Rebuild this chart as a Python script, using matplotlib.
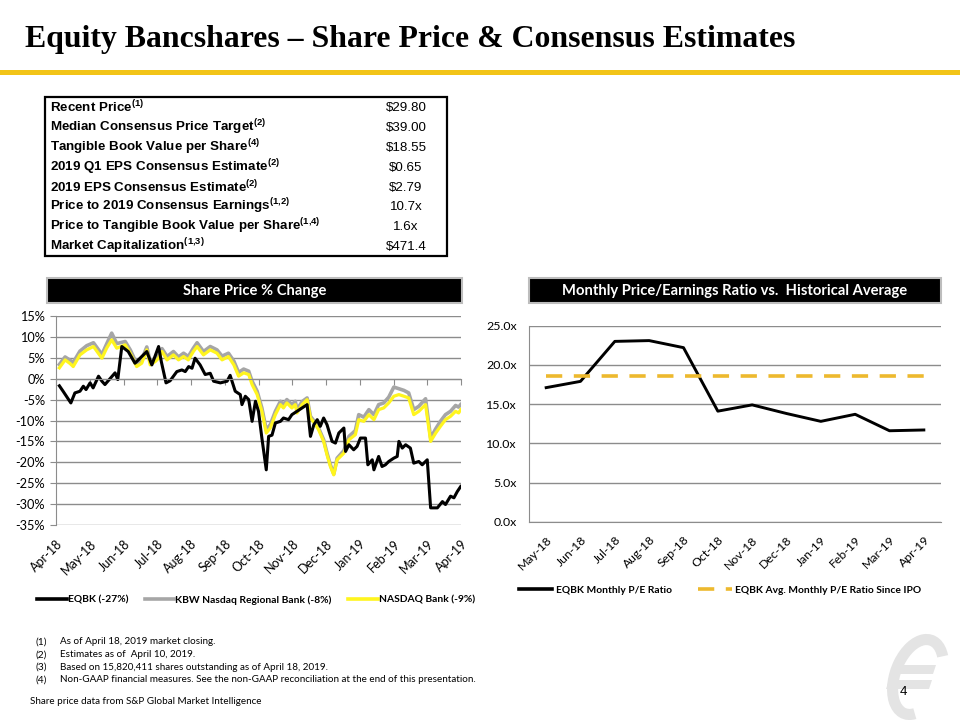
import matplotlib
matplotlib.use('Agg')
import matplotlib.pyplot as plt
from matplotlib.patches import Rectangle, Arc, Polygon
from matplotlib.lines import Line2D

plt.rcParams['mathtext.fontset'] = 'custom'
plt.rcParams['mathtext.rm'] = 'Liberation Sans'
plt.rcParams['mathtext.bf'] = 'Liberation Sans:bold'

W, H = 960, 720

# ---- data ----
title = 'Equity Bancshares \u2013 Share Price & Consensus Estimates'

table_labels = ['Recent Price', 'Median Consensus Price Target', 'Tangible Book Value per Share',
                '2019 Q1 EPS Consensus Estimate', '2019 EPS Consensus Estimate',
                'Price to 2019 Consensus Earnings', 'Price to Tangible Book Value per Share',
                'Market Capitalization']
table_notes = ['(1)', '(2)', '(4)', '(2)', '(2)', '(1{,}2)', '(1{,}4)', '(1{,}3)']
table_values = ['$29.80', '$39.00', '$18.55', '$0.65', '$2.79', '10.7x', '1.6x', '$471.4']

share_months = ['Apr-18', 'May-18', 'Jun-18', 'Jul-18', 'Aug-18', 'Sep-18', 'Oct-18',
                'Nov-18', 'Dec-18', 'Jan-19', 'Feb-19', 'Mar-19', 'Apr-19']

# months since Apr-18
eqbk_t = [0.10, 0.21, 0.44, 0.56, 0.71, 0.81, 0.89, 1.01, 1.10, 1.26, 1.36, 1.45, 1.60, 1.75,
          1.83, 1.95, 2.14, 2.34, 2.49, 2.69, 2.84, 2.94, 3.04, 3.12, 3.26, 3.38, 3.58, 3.73,
          3.83, 3.93, 4.03, 4.12, 4.27, 4.42, 4.57, 4.67, 4.87, 5.07, 5.16, 5.31, 5.46, 5.51,
          5.61, 5.71, 5.81, 5.91, 6.00, 6.10, 6.23, 6.30, 6.40, 6.50, 6.65, 6.74, 6.89, 6.99,
          7.14, 7.29, 7.44, 7.54, 7.64, 7.74, 7.83, 7.93, 8.03, 8.18, 8.28, 8.38, 8.53, 8.58,
          8.68, 8.82, 8.92, 9.02, 9.17, 9.24, 9.37, 9.42, 9.56, 9.66, 9.76, 9.86, 10.01, 10.11,
          10.16, 10.26, 10.36, 10.50, 10.60, 10.75, 10.85, 11.00, 11.10, 11.30, 11.45, 11.54,
          11.69, 11.79, 11.89, 11.99]
eqbk = [-1.7, -3.0, -5.8, -3.4, -3.0, -1.8, -2.6, -1.0, -2.2, 0.6, -0.6, -1.4, 0.0, 1.4,
        -0.2, 7.7, 6.5, 3.7, 4.9, 6.5, 3.3, 5.5, 7.7, 4.1, -1.0, -0.5, 1.7, 2.1,
        1.7, 2.9, 2.5, 4.9, 3.3, 1.0, 1.3, -0.6, -1.0, -0.6, 0.8, -3.0, -3.8, -6.2,
        -4.2, -5.0, -10.2, -5.4, -7.8, -14.2, -21.8, -13.8, -13.5, -10.6, -10.2, -9.4, -9.8, -8.6,
        -7.8, -7.0, -6.2, -13.8, -11.0, -9.8, -11.4, -9.4, -11.0, -15.0, -15.4, -13.0, -11.8, -17.4,
        -15.8, -17.0, -16.2, -14.2, -14.2, -20.6, -19.4, -21.8, -18.6, -21.0, -20.6, -19.8, -19.0, -18.6,
        -15.0, -16.6, -15.8, -16.6, -20.2, -19.8, -20.6, -19.4, -30.9, -30.9, -29.4, -30.1,
        -28.1, -28.5, -27.0, -25.8]

index_t = [0.10, 0.27, 0.42, 0.51, 0.71, 0.91, 1.11, 1.36, 1.50, 1.65, 1.80, 2.05, 2.20, 2.39,
           2.54, 2.69, 2.79, 2.94, 3.04, 3.14, 3.29, 3.48, 3.63, 3.78, 3.92, 4.07, 4.18, 4.37,
           4.57, 4.77, 4.92, 5.11, 5.27, 5.41, 5.56, 5.71, 5.81, 5.96, 6.10, 6.23, 6.35, 6.50,
           6.65, 6.74, 6.84, 6.99, 7.09, 7.14, 7.29, 7.44, 7.54, 7.69, 7.78, 7.93, 8.03, 8.13,
           8.23, 8.33, 8.53, 8.68, 8.87, 8.97, 9.12, 9.27, 9.42, 9.56, 9.71, 9.86, 10.01, 10.16,
           10.31, 10.45, 10.60, 10.75, 10.95, 11.10, 11.25, 11.39, 11.54, 11.69, 11.84, 11.93, 11.99]
nasdaq_bank = [2.6, 4.5, 3.6, 2.9, 5.7, 6.9, 7.7, 4.9, 7.3, 9.3, 7.3, 8.1, 6.1, 2.9,
               3.7, 6.9, 3.3, 4.1, 4.9, 6.5, 4.5, 5.7, 4.5, 5.3, 4.5, 6.5, 7.7, 5.7,
               6.9, 6.1, 4.5, 5.3, 3.3, 0.6, 1.4, 1.0, -1.4, -3.8, -7.8, -13.0, -11.8, -8.6,
               -6.2, -7.0, -5.8, -7.0, -6.2, -8.2, -6.2, -5.0, -9.4, -11.0, -12.2, -15.0, -18.2, -21.0,
               -23.0, -19.4, -17.8, -14.6, -13.4, -9.8, -10.2, -8.6, -9.8, -7.4, -7.0, -5.8, -4.2, -3.8,
               -4.2, -4.6, -8.6, -7.8, -6.2, -15.0, -13.0, -11.4, -9.8, -9.0, -7.8, -8.2, -7.4]
kbw_regional = [3.4, 5.2, 4.4, 3.9, 6.6, 7.9, 8.6, 5.8, 8.3, 10.9, 8.4, 8.9, 6.9, 3.6,
                4.5, 7.6, 4.1, 4.9, 5.6, 7.2, 5.3, 6.5, 5.2, 6.1, 5.3, 7.3, 8.6, 6.5,
                7.7, 6.9, 5.4, 6.1, 4.2, 1.5, 2.3, 1.8, -0.6, -3.0, -7.0, -12.2, -11.0, -7.8,
                -5.4, -6.2, -5.0, -6.2, -5.4, -7.4, -5.5, -4.6, -9.0, -10.6, -11.8, -14.6, -17.8, -20.6,
                -22.8, -19.0, -17.2, -13.8, -12.4, -8.6, -9.2, -7.4, -8.6, -6.2, -5.8, -4.4, -2.0, -2.4,
                -2.8, -3.4, -7.4, -6.6, -4.8, -14.2, -12.0, -10.2, -8.6, -7.8, -6.4, -6.8, -6.2]

pe_months = ['May-18', 'Jun-18', 'Jul-18', 'Aug-18', 'Sep-18', 'Oct-18', 'Nov-18',
             'Dec-18', 'Jan-19', 'Feb-19', 'Mar-19', 'Apr-19']
pe_ratio = [17.1, 17.9, 23.0, 23.1, 22.2, 14.1, 14.9, 13.8, 12.8, 13.7, 11.6, 11.7]
pe_avg = [18.6] * 12

footnotes = ['As of April 18, 2019 market closing.',
             'Estimates as of  April 10, 2019.',
             'Based on 15,820,411 shares outstanding as of April 18, 2019.',
             'Non-GAAP financial measures. See the non-GAAP reconciliation at the end of this presentation.']
source = 'Share price data from S&P Global Market Intelligence'

# ---- layout helpers ----
fig = plt.figure(figsize=(9.6, 7.2), dpi=100)


def ax_px(x0, y0, x1, y1):
    return fig.add_axes([x0 / W, 1 - y1 / H, (x1 - x0) / W, (y1 - y0) / H])


def ftext(x, y, s, **kw):
    return fig.text(x / W, 1 - y / H, s, **kw)


ov = fig.add_axes([0, 0, 1, 1])
ov.set_xlim(0, W)
ov.set_ylim(H, 0)
ov.axis('off')

# title + rule
ftext(25, 40, title, fontsize=22.9, fontweight='bold', family='Liberation Serif', va='center')
ov.add_patch(Rectangle((0, 70), W, 4.5, color='#F2C418', lw=0))

# table
ov.add_patch(Rectangle((45, 97), 402, 159, fill=False, ec='black', lw=1.6))
for i, (lab, note, val) in enumerate(zip(table_labels, table_notes, table_values)):
    y = 107 + i * 19.9
    ftext(50, y, lab + r'$^{\mathbf{' + note + '}}$', fontsize=9.6, fontweight='bold',
          family='Liberation Sans', va='center')
    ftext(406, y + 1, val.replace('$', r'\$'), fontsize=9.6, family='Liberation Sans',
          va='center', ha='center')

# chart header boxes
for (x0, x1, s) in [(47, 462, 'Share Price % Change'),
                    (529, 941, 'Monthly Price/Earnings Ratio vs.  Historical Average')]:
    ov.add_patch(Rectangle((x0, 278), x1 - x0, 25, fc='black', ec='#BDBDBD', lw=1.5))
    ftext((x0 + x1) / 2, 291, s, color='white', fontsize=10.6, fontweight='bold',
          family='Lato', ha='center', va='center')

grid_c = '#8C8C8C'

# ---- share price chart ----
ax1 = ax_px(56, 316, 461, 525)
ax1.plot(index_t, kbw_regional, color='#A6A6A6', lw=2.6, solid_joinstyle='round')
ax1.plot(index_t, nasdaq_bank, color='#FFF51E', lw=2.3, solid_joinstyle='round')
ax1.plot(eqbk_t, eqbk, color='black', lw=2.2, solid_joinstyle='round')
ax1.set_xlim(0, 12)
ax1.set_ylim(-35, 15)
ax1.set_yticks(range(-35, 16, 5))
ax1.set_yticklabels([f'{v}%' for v in range(-35, 16, 5)], family='Lato', fontsize=9.2)
ax1.yaxis.grid(True, color=grid_c, lw=1)
ax1.set_axisbelow(True)
for s in ['top', 'right']:
    ax1.spines[s].set_visible(False)
ax1.spines['left'].set_color(grid_c)
ax1.spines['bottom'].set_position(('data', 0))
ax1.spines['bottom'].set_color(grid_c)
ax1.set_xticks(range(13))
ax1.tick_params(axis='x', length=4, color=grid_c, labelbottom=False)
ax1.tick_params(axis='y', length=4, color=grid_c, pad=4)
sec = ax1.secondary_xaxis('bottom')
sec.set_xticks(range(13), labels=share_months)
sec.tick_params(length=0, pad=9)
sec.spines['bottom'].set_visible(False)
for lab in sec.get_xticklabels():
    lab.set_rotation(45)
    lab.set_ha('right')
    lab.set_rotation_mode('anchor')
    lab.set_family('Lato')
    lab.set_fontsize(9)

h1 = [Line2D([], [], color='black', lw=2.6), Line2D([], [], color='#A6A6A6', lw=2.6),
      Line2D([], [], color='#FFF51E', lw=2.6)]
fig.legend(h1, ['EQBK (-27%)', 'KBW Nasdaq Regional Bank (-8%)', 'NASDAQ Bank (-9%)'],
           loc='center', bbox_to_anchor=(256 / W, 1 - 600 / H), ncol=3, frameon=False,
           prop={'family': 'Lato', 'weight': 'bold', 'size': 7.4}, handlelength=2.9,
           handletextpad=0.1, columnspacing=1.6)

# ---- P/E chart ----
ax2 = ax_px(529, 325.7, 941, 521.7)
ax2.plot(range(12), pe_ratio, color='black', lw=2.1)
ax2.plot(range(12), pe_avg, color='#EDB92E', lw=2.6, dashes=(4.5, 3.2))
ax2.set_xlim(-0.5, 11.5)
ax2.set_ylim(0, 25)
ax2.set_yticks(range(0, 26, 5))
ax2.set_yticklabels([f'{v:.1f}x' for v in range(0, 26, 5)], family='Lato', fontsize=8.9)
ax2.yaxis.grid(True, color=grid_c, lw=1)
ax2.set_axisbelow(True)
for s in ['top', 'right']:
    ax2.spines[s].set_visible(False)
ax2.spines['left'].set_color(grid_c)
ax2.spines['bottom'].set_color(grid_c)
ax2.set_xticks(range(12))
ax2.set_xticklabels(pe_months)
ax2.tick_params(axis='y', length=0, pad=9)
ax2.tick_params(axis='x', length=0, pad=9)
for lab in ax2.get_xticklabels():
    lab.set_rotation(45)
    lab.set_ha('right')
    lab.set_rotation_mode('anchor')
    lab.set_family('Lato')
    lab.set_fontsize(8.8)

h2 = [Line2D([], [], color='black', lw=2.6),
      Line2D([], [], color='#EDB92E', lw=2.6, dashes=(4.5, 3.2))]
fig.legend(h2, ['EQBK Monthly P/E Ratio', 'EQBK Avg. Monthly P/E Ratio Since IPO'],
           loc='center', bbox_to_anchor=(720 / W, 1 - 590 / H), ncol=2, frameon=False,
           prop={'family': 'Lato', 'weight': 'bold', 'size': 7.4}, handlelength=3.3,
           handletextpad=0.3, columnspacing=2.6)

# ---- footnotes ----
for i, note in enumerate(footnotes):
    y = 642 + i * 12.6
    ftext(36, y, f'({i + 1})', fontsize=7.4, family='Lato', va='center')
    ftext(60, y, note, fontsize=7.1, family='Lato', va='center')
ftext(30, 701, source, fontsize=7.1, family='Lato', va='center')

# page number and logo
logo_c = '#E4E4E4'
ov.add_patch(Arc((918, 677), 46, 78, angle=20, theta1=75, theta2=300, color=logo_c, lw=8))
ov.add_patch(Polygon([(893, 665), (936, 665), (933, 674), (890, 674)], color=logo_c, lw=0))
ov.add_patch(Polygon([(889, 680), (932, 680), (929, 689), (886, 689)], color=logo_c, lw=0))
ftext(900, 692, '4', fontsize=9.5, family='Liberation Sans', va='center')

fig.savefig('out.png', dpi=100)
